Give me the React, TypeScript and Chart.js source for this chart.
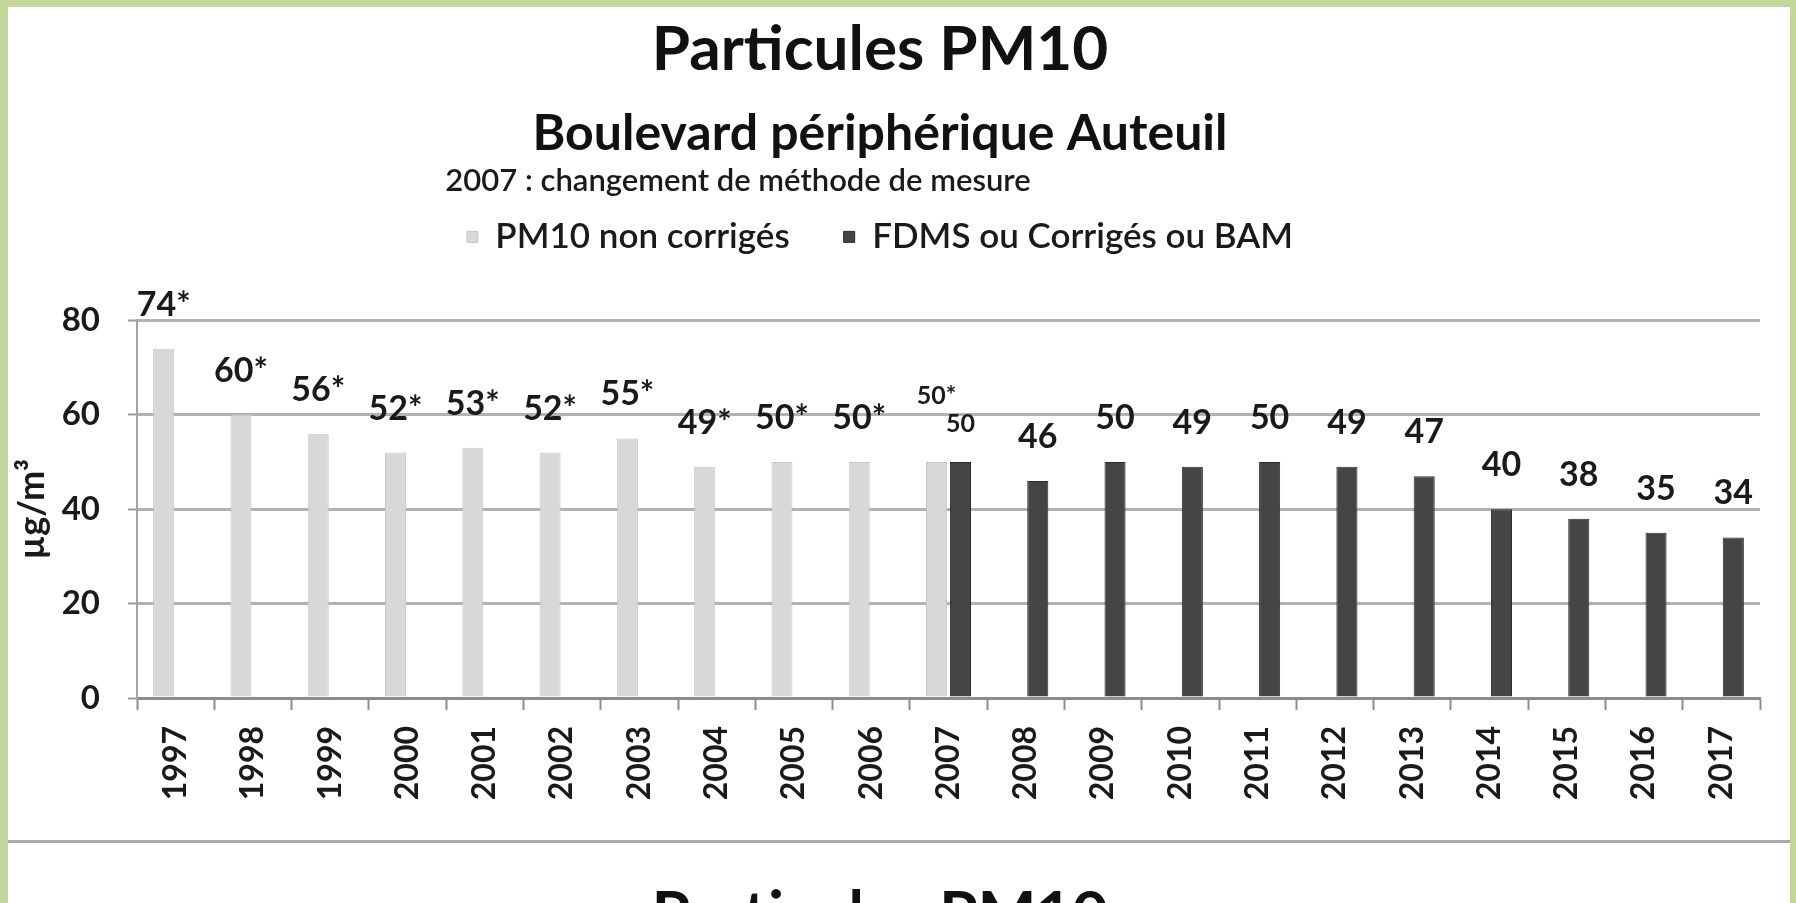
import { useEffect, useRef } from 'react';
import { Chart, registerables } from 'chart.js';

Chart.register(...registerables);

// ---- data ----
const years = ['1997', '1998', '1999', '2000', '2001', '2002', '2003', '2004', '2005', '2006', '2007', '2008', '2009', '2010', '2011', '2012', '2013', '2014', '2015', '2016', '2017'];
const nonCorriges: (number | null)[] = [74, 60, 56, 52, 53, 52, 55, 49, 50, 50, 50, null, null, null, null, null, null, null, null, null, null];
const corriges: (number | null)[] = [null, null, null, null, null, null, null, null, null, null, 50, 46, 50, 49, 50, 49, 47, 40, 38, 35, 34];
const seriesNames = ['PM10 non corrigés', 'FDMS ou Corrigés ou BAM'];
const seriesSuffix = ['*', ''];
const yTicks = [0, 20, 40, 60, 80];
const titleText = 'Particules PM10';
const subtitleText = 'Boulevard périphérique Auteuil';
const noteText = '2007 : changement de méthode de mesure';
const yAxisTitle = 'µg/m³';

const FONT = 'Lato';

const valueLabels = {
  id: 'valueLabels',
  afterDatasetsDraw(chart: any) {
    const ctx = chart.ctx;
    ctx.save();
    ctx.fillStyle = '#1a1a1a';
    ctx.textAlign = 'center';
    ctx.textBaseline = 'middle';
    chart.data.datasets.forEach((ds: any, di: number) => {
      const meta = chart.getDatasetMeta(di);
      ds.data.forEach((v: number | null, i: number) => {
        if (v == null) return;
        const shared = chart.data.datasets.every((d: any) => d.data[i] != null);
        const el = meta.data[i];
        const off = shared ? (di === 0 ? 66 : 38) : 44;
        ctx.font = `bold ${shared ? 25 : 34}px ${FONT}`;
        ctx.fillText(`${v}${seriesSuffix[di]}`, el.x, el.y - off);
      });
    });
    ctx.restore();
  },
};

const noteAndSpacing = {
  id: 'noteAndSpacing',
  beforeInit(chart: any) {
    const legend = chart.legend;
    if (legend) {
      const orig = legend.fit;
      legend.fit = function () {
        orig.call(this);
        this.height += 56;
      };
    }
  },
  afterDraw(chart: any) {
    const ctx = chart.ctx;
    const legend = chart.legend;
    ctx.save();
    ctx.fillStyle = '#1a1a1a';
    ctx.font = `600 31px ${FONT}`;
    ctx.textAlign = 'center';
    ctx.textBaseline = 'middle';
    const cx = (legend.left + legend.right) / 2 - 142;
    ctx.fillText(noteText, cx, legend.top + 16);
    ctx.restore();
  },
};

export default function App() {
  const ref = useRef<HTMLCanvasElement | null>(null);

  useEffect(() => {
    let chart: Chart | null = null;
    let cancelled = false;
    const build = () => {
      if (cancelled || !ref.current) return;
      chart = new Chart(ref.current, {
        type: 'bar',
        data: {
          labels: years,
          datasets: [
            {
              label: seriesNames[0],
              data: nonCorriges,
              backgroundColor: '#d8d8d8',
              borderColor: '#c8c8c8',
              borderWidth: 1,
              categoryPercentage: 0.62,
              barPercentage: 0.88,
            },
            {
              label: seriesNames[1],
              data: corriges,
              backgroundColor: '#454545',
              borderColor: '#2c2c2c',
              borderWidth: 1,
              categoryPercentage: 0.62,
              barPercentage: 0.88,
            },
          ],
        },
        options: {
          animation: false,
          responsive: false,
          devicePixelRatio: 1,
          layout: { padding: { left: 0, right: 36, top: 0, bottom: 0 } },
          plugins: {
            title: {
              display: true,
              text: titleText,
              color: '#111',
              font: { family: FONT, size: 62, weight: 'bold', lineHeight: 1.2 },
              padding: { top: 13, bottom: 0 },
            },
            subtitle: {
              display: true,
              text: subtitleText,
              color: '#111',
              font: { family: FONT, size: 50, weight: 'bold', lineHeight: 1.2 },
              padding: { top: 16, bottom: 2 },
            },
            legend: {
              display: true,
              position: 'top',
              labels: {
                color: '#1a1a1a',
                font: { family: FONT, size: 35, weight: '600' },
                boxWidth: 11,
                boxHeight: 11,
                padding: 54,
              },
            },
            tooltip: { enabled: false },
          },
          scales: {
            x: {
              grid: {
                display: true,
                drawOnChartArea: false,
                drawTicks: true,
                tickLength: 12,
                tickWidth: 2,
                tickColor: '#8c8c8c',
                offset: true,
              },
              border: { display: true, color: '#8c8c8c', width: 3 },
              ticks: {
                autoSkip: false,
                minRotation: 90,
                maxRotation: 90,
                padding: 16,
                color: '#1a1a1a',
                font: { family: FONT, size: 32, weight: 'bold' },
              },
              afterFit(s: any) {
                s.height = 205;
              },
            },
            y: {
              min: 0,
              max: 80,
              afterBuildTicks(s: any) {
                s.ticks = yTicks.map((v) => ({ value: v }));
              },
              ticks: {
                padding: 28,
                color: '#1a1a1a',
                font: { family: FONT, size: 33, weight: 'bold' },
              },
              grid: {
                color: '#b2b2b2',
                lineWidth: 3,
                tickLength: 9,
                tickColor: '#999999',
                tickWidth: 2,
              },
              border: { display: true, color: '#a3a3a3', width: 2 },
              title: {
                display: true,
                text: yAxisTitle,
                color: '#1a1a1a',
                font: { family: FONT, size: 36, weight: 'bold', lineHeight: 1.2 },
                padding: { top: 11, bottom: 0 },
              },
              afterFit(s: any) {
                s.width = 137;
              },
            },
          },
        } as any,
        plugins: [valueLabels, noteAndSpacing],
      });
    };
    const fontsReady = (document as any).fonts
      ? Promise.all([
          (document as any).fonts.load(`bold 40px ${FONT}`),
          (document as any).fonts.load(`600 30px ${FONT}`),
          (document as any).fonts.load(`30px ${FONT}`),
        ]).catch(() => null)
      : Promise.resolve(null);
    fontsReady.then(build);
    return () => {
      cancelled = true;
      if (chart) chart.destroy();
    };
  }, []);

  return (
    <div
      style={{
        position: 'fixed',
        left: 0,
        top: 0,
        width: 1796,
        height: 903,
        background: '#c4d79b',
        overflow: 'hidden',
      }}
    >
      <div style={{ position: 'absolute', left: 8, top: 7, width: 1782, height: 896, background: '#ffffff' }} />
      <canvas ref={ref} width={1796} height={903} style={{ position: 'absolute', left: 0, top: 0 }} />
      <div style={{ position: 'absolute', left: 8, top: 840, width: 1782, height: 3, background: '#a9a9a9' }} />
      <div
        style={{
          position: 'absolute',
          left: 0,
          top: 880,
          width: 1760,
          textAlign: 'center',
          fontFamily: FONT,
          fontWeight: 'bold',
          fontSize: 62,
          lineHeight: '62px',
          color: '#111',
        }}
      >
        {titleText}
      </div>
    </div>
  );
}
